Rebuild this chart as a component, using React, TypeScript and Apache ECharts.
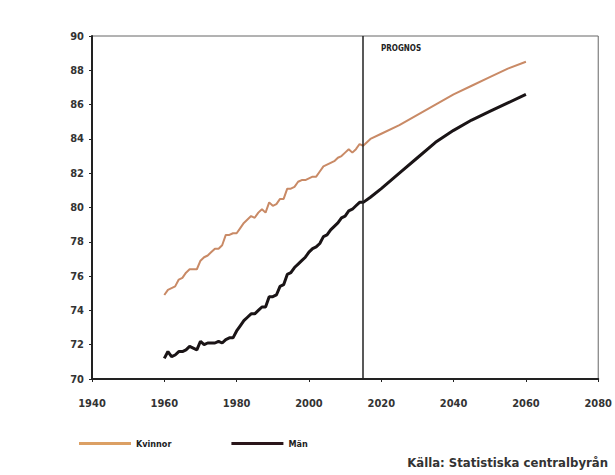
import React, { useEffect, useRef } from "react";
import * as echarts from "echarts";

const histYears = [
  1960, 1961, 1962, 1963, 1964, 1965, 1966, 1967, 1968, 1969,
  1970, 1971, 1972, 1973, 1974, 1975, 1976, 1977, 1978, 1979,
  1980, 1981, 1982, 1983, 1984, 1985, 1986, 1987, 1988, 1989,
  1990, 1991, 1992, 1993, 1994, 1995, 1996, 1997, 1998, 1999,
  2000, 2001, 2002, 2003, 2004, 2005, 2006, 2007, 2008, 2009,
  2010, 2011, 2012, 2013, 2014, 2015,
];
const womenHist = [
  74.9, 75.2, 75.3, 75.4, 75.8, 75.9, 76.2, 76.4, 76.4, 76.4,
  76.9, 77.1, 77.2, 77.4, 77.6, 77.6, 77.8, 78.4, 78.4, 78.5,
  78.5, 78.8, 79.1, 79.3, 79.5, 79.4, 79.7, 79.9, 79.7, 80.3,
  80.1, 80.2, 80.5, 80.5, 81.1, 81.1, 81.2, 81.5, 81.6, 81.6,
  81.7, 81.8, 81.8, 82.1, 82.4, 82.5, 82.6, 82.7, 82.9, 83.0,
  83.2, 83.4, 83.2, 83.4, 83.7, 83.6,
];
const menHist = [
  71.2, 71.6, 71.3, 71.4, 71.6, 71.6, 71.7, 71.9, 71.8, 71.7,
  72.2, 72.0, 72.1, 72.1, 72.1, 72.2, 72.1, 72.3, 72.4, 72.4,
  72.8, 73.1, 73.4, 73.6, 73.8, 73.8, 74.0, 74.2, 74.2, 74.8,
  74.8, 74.9, 75.4, 75.5, 76.1, 76.2, 76.5, 76.7, 76.9, 77.1,
  77.4, 77.6, 77.7, 77.9, 78.3, 78.4, 78.7, 78.9, 79.1, 79.4,
  79.5, 79.8, 79.9, 80.1, 80.3, 80.3,
];
const progYears = [2017, 2020, 2025, 2030, 2035, 2040, 2045, 2050, 2055, 2060];
const womenProg = [84.0, 84.3, 84.8, 85.4, 86.0, 86.6, 87.1, 87.6, 88.1, 88.5];
const menProg = [80.6, 81.1, 82.0, 82.9, 83.8, 84.5, 85.1, 85.6, 86.1, 86.6];

const prognosYear = 2015;
const xTicks = { min: 1940, max: 2080, step: 20 };
const yTicks = { min: 70, max: 90, step: 2 };

const font = "'DejaVu Sans Condensed', 'DejaVu Sans', sans-serif";

export default function App() {
  const ref = useRef<HTMLDivElement>(null);
  useEffect(() => {
    if (!ref.current) return;
    const chart = echarts.init(ref.current, null, { renderer: "svg" });
    const women = histYears.map((y, i) => [y, womenHist[i]]).concat(
      progYears.map((y, i) => [y, womenProg[i]])
    );
    const men = histYears.map((y, i) => [y, menHist[i]]).concat(
      progYears.map((y, i) => [y, menProg[i]])
    );
    chart.setOption({
      animation: false,
      backgroundColor: "#ffffff",
      grid: {
        left: 92,
        right: 10,
        top: 36,
        bottom: 96,
        show: true,
        borderColor: "#666",
        borderWidth: 1,
        backgroundColor: "transparent",
      },
      xAxis: {
        type: "value",
        min: xTicks.min,
        max: xTicks.max,
        interval: xTicks.step,
        axisLine: { show: true, lineStyle: { color: "#222", width: 2 } },
        axisTick: { show: true, length: 3, lineStyle: { color: "#222" } },
        splitLine: { show: false },
        axisLabel: {
          color: "#333",
          fontFamily: font,
          fontWeight: "bold",
          fontSize: 11,
          margin: 19,
          formatter: (v: number) => String(v),
        },
      },
      yAxis: {
        type: "value",
        min: yTicks.min,
        max: yTicks.max,
        interval: yTicks.step,
        axisLine: { show: true, lineStyle: { color: "#222", width: 2 } },
        axisTick: { show: true, length: 3, lineStyle: { color: "#222" } },
        splitLine: { show: false },
        axisLabel: {
          color: "#333",
          fontFamily: font,
          fontWeight: "bold",
          fontSize: 11,
          margin: 8,
        },
      },
      legend: {
        left: 74,
        top: 434,
        itemWidth: 52,
        itemHeight: 3,
        itemGap: 60,
        icon: "rect",
        data: [
          { name: "Kvinnor", itemStyle: { color: "#dca064" } },
          { name: "Män", itemStyle: { color: "#2a161a" } },
        ],
        textStyle: {
          fontFamily: font,
          fontWeight: "bold",
          fontSize: 9,
          color: "#222",
        },
      },
      series: [
        {
          name: "Kvinnor",
          type: "line",
          data: women,
          showSymbol: false,
          symbol: "none",
          color: "#c98a66",
          lineStyle: { color: "#c98a66", width: 2 },
          z: 3,
        },
        {
          name: "Män",
          type: "line",
          data: men,
          showSymbol: false,
          symbol: "none",
          color: "#1a1416",
          lineStyle: { color: "#1a1416", width: 3 },
          z: 4,
          markLine: {
            silent: true,
            symbol: "none",
            label: { show: false },
            lineStyle: { color: "#222", width: 1.5, type: "solid" },
            data: [{ xAxis: prognosYear }],
          },
        },
      ],
      graphic: [
        {
          type: "text",
          x: 381,
          y: 44,
          style: {
            text: "PROGNOS",
            fontFamily: font,
            fontWeight: "bold",
            fontSize: 8,
            fill: "#222",
          },
        },
        {
          type: "text",
          x: 608,
          y: 456,
          style: {
            text: "Källa: Statistiska centralbyrån",
            textAlign: "right",
            fontFamily: font,
            fontWeight: "bold",
            fontSize: 13,
            fill: "#333",
          },
        },
      ],
    });
    return () => chart.dispose();
  }, []);
  return (
    <div
      ref={ref}
      style={{ position: "fixed", left: 0, top: 0, width: 615, height: 475 }}
    />
  );
}
